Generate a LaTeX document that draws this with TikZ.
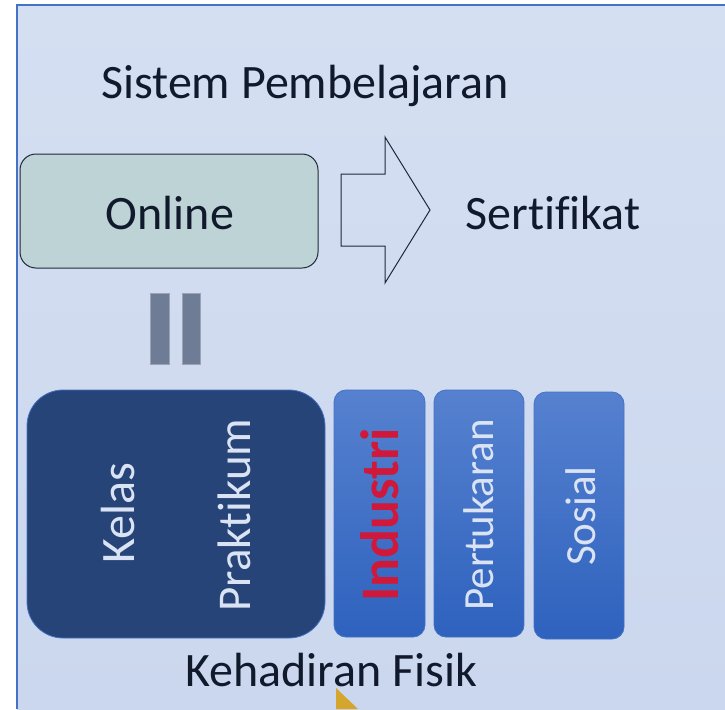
\documentclass[tikz,border=0pt]{standalone}
\usepackage{fontspec}
\setmainfont{Carlito}[Ligatures={NoCommon}]
\definecolor{bgtop}{HTML}{D5DFF2}
\definecolor{bgbot}{HTML}{CBD7EE}
\definecolor{frameblue}{HTML}{4472C4}
\definecolor{onlinefill}{HTML}{BED3D5}
\definecolor{darkline}{HTML}{1E2838}
\definecolor{navyfill}{HTML}{264478}
\definecolor{boxtop}{HTML}{5681CF}
\definecolor{boxbot}{HTML}{2E62BE}
\definecolor{lighttext}{HTML}{DAE3F3}
\definecolor{redtext}{HTML}{D0183A}
\definecolor{bargrey}{HTML}{6E7C96}
\definecolor{inktext}{HTML}{101A2C}
\definecolor{yellowshape}{HTML}{D4A72C}
\tikzset{
  bigtext/.style={font=\fontsize{48}{54}\selectfont, text=inktext, inner sep=0pt},
  boxtext/.style={font=\fontsize{47}{52}\selectfont, text=lighttext, inner sep=0pt, rotate=90, anchor=base},
  smalltext/.style={font=\fontsize{43}{48}\selectfont},
  bluebox/.style={draw=frameblue, line width=0.8pt, rounded corners=12pt, top color=boxtop, bottom color=boxbot},
  bar/.style={fill=bargrey, draw=bargrey!70!white, line width=0.6pt}
}
\begin{document}
\begin{tikzpicture}[x=1pt,y=-1pt]
\useasboundingbox (0,0) rectangle (725,709);
\fill[white] (0,0) rectangle (725,709);
% background frame
\shade[top color=bgtop, bottom color=bgbot] (17,5) rectangle (725,709);
\draw[frameblue, line width=1.2pt] (17,709) -- (17,5) -- (725,5);
% title
\node[bigtext, anchor=base] (title) at (305,98) {Sistem Pembelajaran};
% online box
\draw[darkline, fill=onlinefill, line width=1pt, rounded corners=16pt] (20,154) rectangle (318,268);
\node[bigtext, anchor=base] (online) at (170,229) {Online};
% outline arrow
\draw[darkline, line width=1pt, line join=miter] (341,174) -- (385,174) -- (385,137) -- (430,210) -- (385,283) -- (385,246) -- (341,246) -- cycle;
\node[bigtext, anchor=base] (sert) at (553,229) {Sertifikat};
% equal bars
\draw[bar] (150,293) rectangle (169,364);
\draw[bar] (182,293) rectangle (200,364);
% big dark box
\draw[draw=frameblue, line width=0.8pt, fill=navyfill, rounded corners=36pt] (27,390) rectangle (325,638);
\node[boxtext, font=\fontsize{48}{54}\selectfont] (kelas) at (134,513) {Kelas};
\node[boxtext] (prak) at (250,515) {Praktikum};
% blue boxes
\draw[bluebox] (334,390) rectangle (425,637);
\node[boxtext, text=redtext, font=\fontsize{54}{60}\selectfont\bfseries] (ind) at (398,515) {Industri};
\draw[bluebox] (434,390) rectangle (524,637);
\node[boxtext, smalltext] (pert) at (493,515) {Pertukaran};
\draw[bluebox] (534,392) rectangle (624,639);
\node[boxtext, smalltext] (sos) at (595,516) {Sosial};
% bottom label
\node[bigtext, anchor=base] (fisik) at (331,686) {Kehadiran Fisik};
% yellow shape clipped at bottom
\fill[yellowshape] (336,688) -- (336,709) -- (358,709) -- cycle;
\end{tikzpicture}
\end{document}
